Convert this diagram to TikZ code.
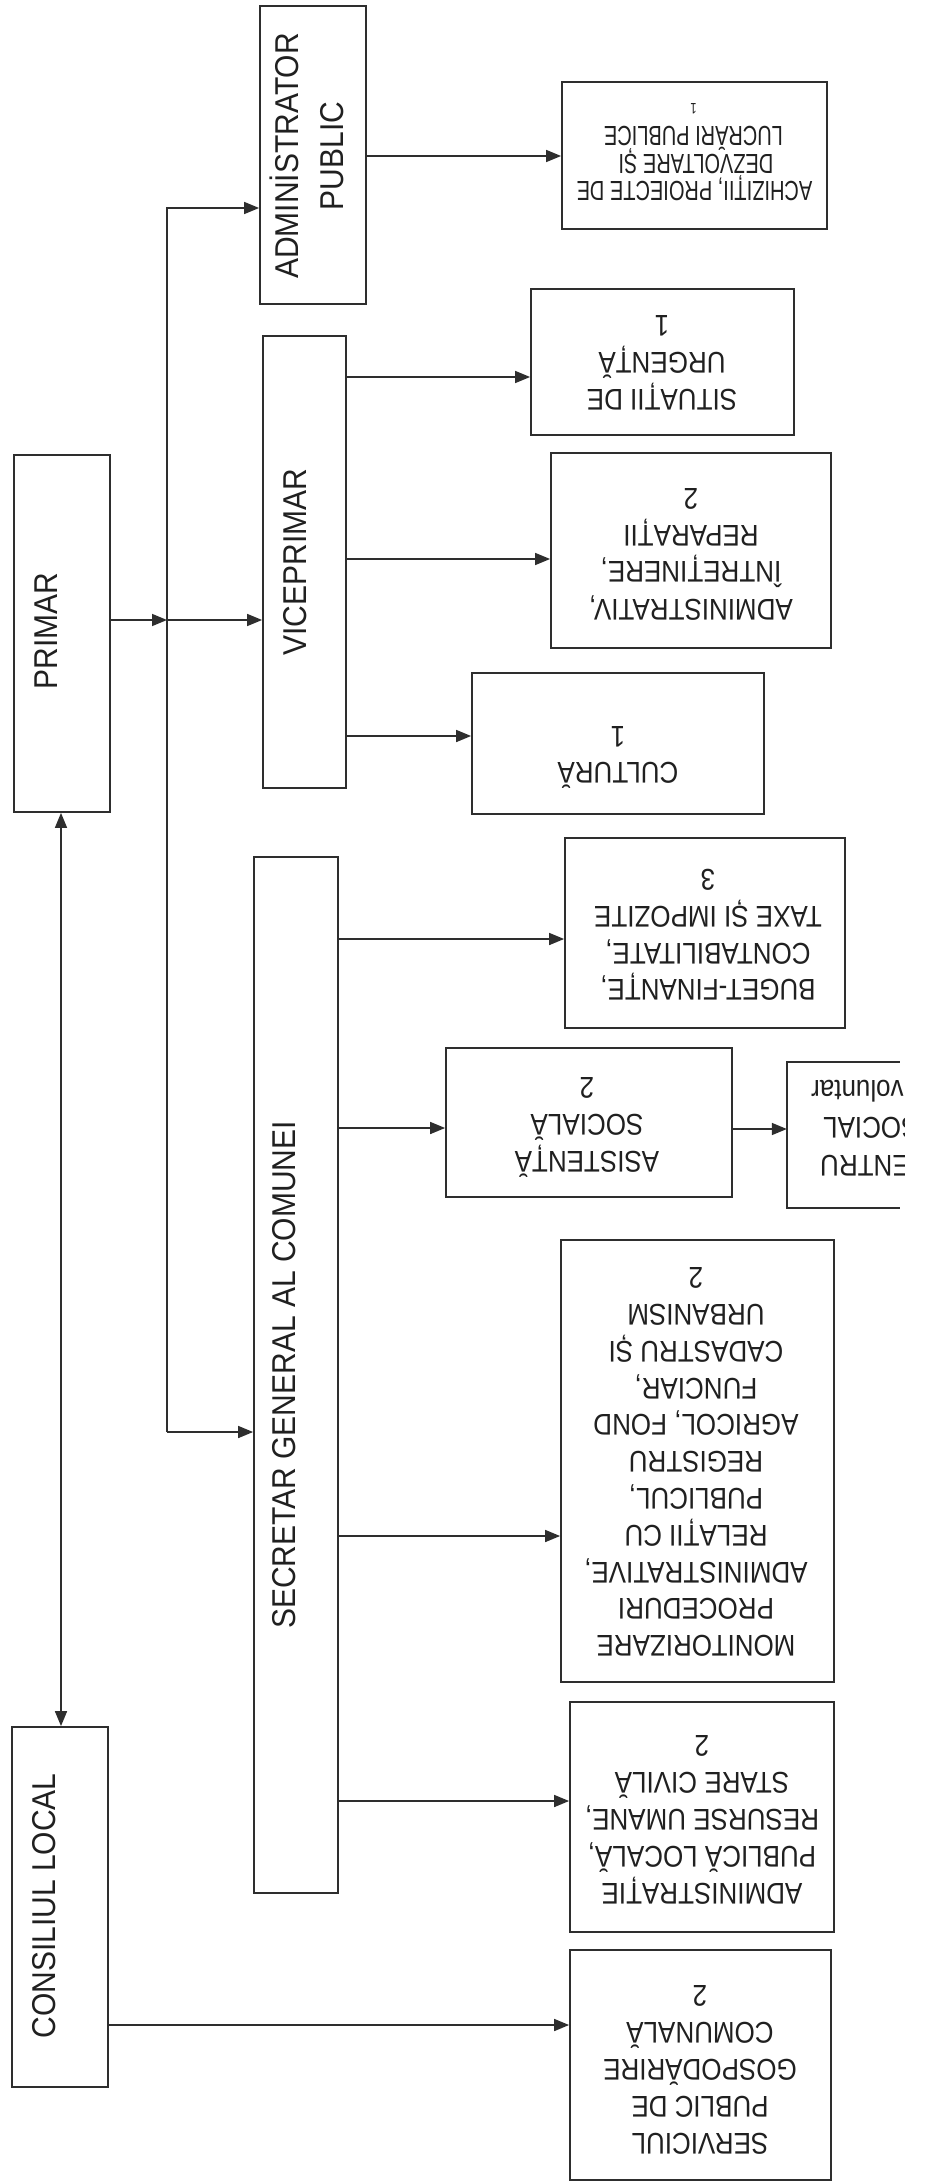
\documentclass[tikz,border=0pt]{standalone}
\usepackage{fontspec}
\setmainfont{Liberation Sans}
\usepackage{graphicx}
\usetikzlibrary{arrows.meta,calc}
\definecolor{linec}{HTML}{2E2E2E}
\definecolor{txtc}{HTML}{202020}
\newcommand{\rtx}[1]{\scalebox{1}[1.15]{\fontsize{26}{32}\selectfont\begin{tabular}{@{}c@{}}#1\end{tabular}}}
\newcommand{\aone}[2][20]{\scalebox{1}[1.38]{\fontsize{#1}{#1}\selectfont #2}}
\newcommand{\ltx}[1]{\scalebox{1}[1.1]{\fontsize{30}{41}\selectfont\begin{tabular}{@{}c@{}}#1\end{tabular}}}
\newcommand{\rone}[1]{\scalebox{1}[1.15]{\fontsize{26}{32}\selectfont #1}}
\begin{document}
\begin{tikzpicture}[x=1pt,y=-1pt,
  box/.style={draw=linec,line width=1.8pt,inner sep=0pt},
  arr/.style={draw=linec,line width=1.6pt,-{Triangle[length=15pt,width=12pt]}},
  darr/.style={draw=linec,line width=1.6pt,{Triangle[length=15pt,width=12pt]}-{Triangle[length=15pt,width=12pt]}},
  lbl/.style={text=txtc,inner sep=0pt},
  uline/.style={text=txtc,inner sep=0pt,rotate=180,anchor=base}]
\useasboundingbox[fill=white] (0,0) rectangle (948,2183);

% ---------- boxes ----------
\node[box,minimum width=106pt,minimum height=298pt] (admin) at (313,155) {};
\node[box,minimum width=265pt,minimum height=147pt] (achiz) at (694.5,155.5) {};
\node[box,minimum width=96pt,minimum height=357pt] (primar) at (62,633.5) {};
\node[box,minimum width=83pt,minimum height=452pt] (vice) at (304.5,562) {};
\node[box,minimum width=263pt,minimum height=146pt] (sit) at (662.5,362) {};
\node[box,minimum width=280pt,minimum height=195pt] (admtiv) at (691,550.5) {};
\node[box,minimum width=292pt,minimum height=141pt] (cult) at (618,743.5) {};
\node[box,minimum width=84pt,minimum height=1036pt] (secr) at (296,1375) {};
\node[box,minimum width=280pt,minimum height=190pt] (buget) at (705,933) {};
\node[box,minimum width=286pt,minimum height=149pt] (asist) at (589,1122.5) {};
\node[inner sep=0pt,minimum width=161pt,minimum height=146pt] (centru) at (867.5,1135) {};
\draw[linec,line width=1.8pt] ([xshift=113pt]centru.north west) -- (centru.north west) -- (centru.south west) -- ([xshift=113pt]centru.south west);
\node[box,minimum width=273pt,minimum height=442pt] (monit) at (697.5,1461) {};
\node[box,minimum width=264pt,minimum height=230pt] (admtie) at (702,1817) {};
\node[box,minimum width=96pt,minimum height=360pt] (consil) at (60,1907) {};
\node[box,minimum width=261pt,minimum height=230pt] (serv) at (700.5,2065) {};

% ---------- left labels ----------
\node[lbl,rotate=90] (adminT) at (312,156) {\ltx{ADMINİSTRATOR\\PUBLIC}};
\node[lbl,rotate=90] (primarT) at (48,631) {\ltx{PRIMAR}};
\node[lbl,rotate=90] (viceT) at (297,562) {\ltx{VICEPRIMAR}};
\node[lbl,rotate=90] (secrT) at (286,1375) {\ltx{SECRETAR GENERAL AL COMUNEI}};
\node[lbl,rotate=90] (consilT) at (46,1906) {\ltx{CONSILIUL LOCAL}};

% ---------- right labels (upside down) ----------
\node[uline] (achizT1) at (694.5,182) {\aone{ACHIZIȚII, PROIECTE DE}};
\node[uline] (achizT2) at (696,155) {\aone{DEZVOLTARE ȘI}};
\node[uline] (achizT3) at (693.5,127) {\aone{LUCRĂRI PUBLICE}};
\node[uline] (achizT4) at (693.5,104) {\aone[11]{1}};
\node[lbl,rotate=180] (sitT) at (662,360) {\rtx{SITUAȚII DE\\URGENȚĂ\\1}};
\node[lbl,rotate=180] (admtivT) at (691,551) {\rtx{ADMINISTRATIV,\\ÎNTREȚINERE,\\REPARAȚII\\2}};
\node[lbl,rotate=180] (cultT) at (618,752) {\rtx{CULTURĂ\\1}};
\node[lbl,rotate=180] (bugetT) at (708,932) {\rtx{BUGET-FINANȚE,\\CONTABILITATE,\\TAXE ȘI IMPOZITE\\3}};
\node[lbl,rotate=180] (asistT) at (587,1122) {\rtx{ASISTENȚĂ\\SOCIALĂ\\2}};
\node[lbl,rotate=180] (monitT) at (696,1459) {\rtx{MONITORIZARE\\PROCEDURI\\ADMINISTRATIVE,\\RELAȚII CU\\PUBLICUL,\\REGISTRU\\AGRICOL, FOND\\FUNCIAR,\\CADASTRU ȘI\\URBANISM\\2}};
\node[lbl,rotate=180] (admtieT) at (702,1817) {\rtx{ADMINISTRAȚIE\\PUBLICĂ LOCALĂ,\\RESURSE UMANE,\\STARE CIVILĂ\\2}};
\node[lbl,rotate=180] (servT) at (700,2067) {\rtx{SERVICIUL\\PUBLIC DE\\GOSPODĂRIRE\\COMUNALĂ\\2}};
\begin{scope}
  \clip (787,1062) rectangle (904,1208);
  \node[lbl,rotate=180,anchor=base east] (cenT1) at (820,1155) {\rone{CENTRU}};
  \node[lbl,rotate=180,anchor=base east] (cenT2) at (823,1117) {\rone{SOCIAL}};
  \node[lbl,rotate=180,anchor=base east] (cenT3) at (811,1080) {\rone{voluntar}};
\end{scope}

% ---------- connector levels ----------
\coordinate (yAch) at (0,156);
\coordinate (yVice) at (0,620);
\coordinate (ySit) at (0,377);
\coordinate (yAdmtiv) at (0,559);
\coordinate (yCult) at (0,736);
\coordinate (yBug) at (0,939);
\coordinate (yAsis) at (0,1128);
\coordinate (yCen) at (0,1129);
\coordinate (yMon) at (0,1536);
\coordinate (yAdmtie) at (0,1801);
\coordinate (yServ) at (0,2025);
\coordinate (busT) at (167,208);
\coordinate (busB) at (167,1432);
\coordinate (xDA) at (61,0);

% ---------- connectors ----------
\draw[arr] (busB) -- (busT) -- (busT -| admin.west);
\draw[arr] (busB) -- (busB -| secr.west);
\draw[arr] (primar.east |- yVice) -- (busT |- yVice);
\draw[arr] (busT |- yVice) -- (vice.west |- yVice);
\draw[arr] (admin.east |- yAch) -- (achiz.west |- yAch);
\draw[arr] (vice.east |- ySit) -- (sit.west |- ySit);
\draw[arr] (vice.east |- yAdmtiv) -- (admtiv.west |- yAdmtiv);
\draw[arr] (vice.east |- yCult) -- (cult.west |- yCult);
\draw[arr] (secr.east |- yBug) -- (buget.west |- yBug);
\draw[arr] (secr.east |- yAsis) -- (asist.west |- yAsis);
\draw[arr] (asist.east |- yCen) -- (centru.west |- yCen);
\draw[arr] (secr.east |- yMon) -- (monit.west |- yMon);
\draw[arr] (secr.east |- yAdmtie) -- (admtie.west |- yAdmtie);
\draw[arr] (consil.east |- yServ) -- (serv.west |- yServ);
\draw[darr] (primar.south -| xDA) -- (consil.north -| xDA);
\end{tikzpicture}
\end{document}
